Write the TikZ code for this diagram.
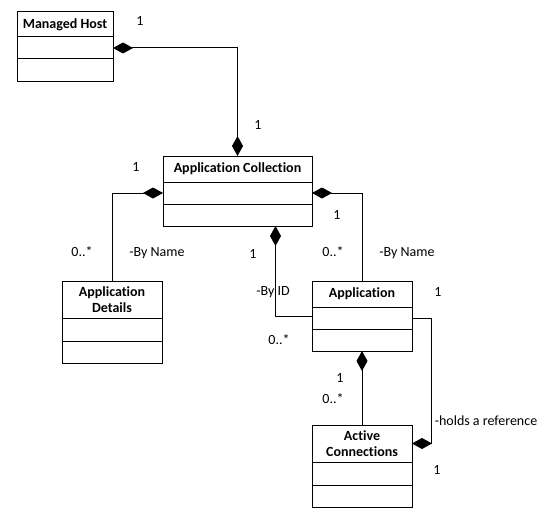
\documentclass[tikz,border=0pt]{standalone}
\usepackage{fontspec}
\setmainfont{Carlito}[Ligatures=NoCommon]
\usetikzlibrary{arrows.meta,positioning}

\tikzset{
  classhead/.style={draw,line width=1pt,outer sep=0pt,inner sep=1pt,anchor=north west,
    align=center,font=\fontsize{14}{16.5}\selectfont\bfseries,minimum height=25pt},
  classpart/.style={draw,line width=1pt,outer sep=0pt,minimum height=22pt,below=0pt of #1},
  assoc/.style={line width=1pt},
  owner/.style={assoc,arrows={Diamond[length=20pt,width=11pt]-}},
  owned/.style={assoc,arrows={-Diamond[length=20pt,width=11pt]}},
  mult/.style={anchor=base,inner sep=1pt,font=\fontsize{14}{16.5}\selectfont}
}

\begin{document}
\begin{tikzpicture}[x=1pt,y=-1pt]
  \useasboundingbox (0,0) rectangle (546,527);

  \node[classhead,minimum width=96pt] (host) at (17,12) {Managed Host};
  \node[classpart=host,minimum width=96pt] (host1) {};
  \node[classpart=host1,minimum width=96pt] (host2) {};

  \node[classhead,minimum width=149pt,minimum height=26pt] (coll) at (163,156) {Application Collection};
  \node[classpart=coll,minimum width=149pt] (coll1) {};
  \node[classpart=coll1,minimum width=149pt] (coll2) {};

  \node[classhead,minimum width=100pt,minimum height=37pt] (details) at (62,281) {Application\\Details};
  \node[classpart=details,minimum width=100pt,minimum height=23pt] (details1) {};
  \node[classpart=details1,minimum width=100pt] (details2) {};

  \node[classhead,minimum width=100pt,minimum height=26pt] (app) at (312,281) {Application};
  \node[classpart=app,minimum width=100pt] (app1) {};
  \node[classpart=app1,minimum width=100pt] (app2) {};

  \node[classhead,minimum width=100pt,minimum height=37pt] (conn) at (312,425) {Active\\Connections};
  \node[classpart=conn,minimum width=100pt,minimum height=23pt] (conn1) {};
  \node[classpart=conn1,minimum width=100pt] (conn2) {};

  \draw[owner,arrows={Diamond[length=20pt,width=11pt]-Diamond[length=20pt,width=11pt]}] (host1.east) -| (coll.north);
  \draw[owner] (coll1.west) -| (details.north);
  \draw[owner] ([xshift=38pt]coll2.south) |- ([yshift=2pt]app1.west);
  \draw[owner] (coll1.east) -| (app.north);
  \draw[owned] (app1.east) -- ++(19,0) |- (conn.east);
  \draw[owner] (app2.south) -- (conn.north);

  \node[mult] (m1) at (140,26) {1};
  \node[mult] (m2) at (258,129) {1};
  \node[mult] (m3) at (136,171) {1};
  \node[mult] (m4) at (82,256) {0..*};
  \node[mult] (m5) at (157,256) {-By Name};
  \node[mult] (m6) at (253,258) {1};
  \node[mult] (m7) at (273,295) {-By ID};
  \node[mult] (m8) at (279,344) {0..*};
  \node[mult] (m9) at (337,219) {1};
  \node[mult] (m10) at (333,256) {0..*};
  \node[mult] (m11) at (407,256) {-By Name};
  \node[mult] (m12) at (438,296) {1};
  \node[mult] (m13) at (340,382) {1};
  \node[mult] (m14) at (333,403) {0..*};
  \node[mult] (m15) at (486,425) {-holds a reference};
  \node[mult] (m16) at (437,474) {1};
\end{tikzpicture}
\end{document}
